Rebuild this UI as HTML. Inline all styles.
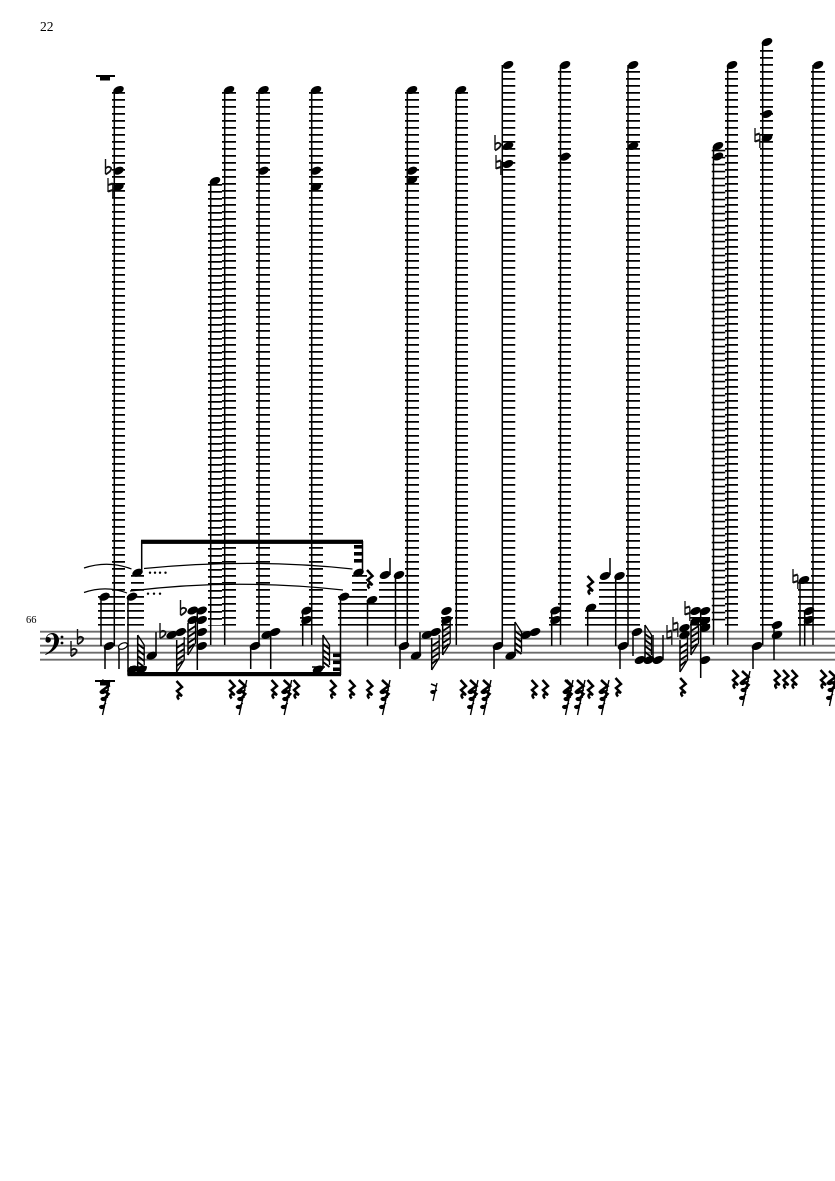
<!DOCTYPE html>
<html><head><meta charset="utf-8"><style>
html,body{margin:0;padding:0;background:#fff}
svg{display:block}
.l{stroke:#000;stroke-dasharray:1.7 5.3;fill:none}
.s{stroke:#000;stroke-width:1.5;fill:none}
.st{stroke:#6c6c6c;stroke-width:1.8}
.sl{fill:none;stroke:#000;stroke-width:1.2}
</style></head><body>
<svg width="835" height="1181" viewBox="0 0 835 1181" xmlns="http://www.w3.org/2000/svg">
<defs>
<ellipse id="h" rx="5.6" ry="3.6" transform="rotate(-25)" fill="#000"/>
<g id="f" fill="none" stroke="#111" stroke-width="1.4"><path d="M0 -11V4"/><path d="M0 -1.500Q3 -4.500 5.500 -2Q6.500 1 0 4.500" stroke-width="1.800"/></g>
<g id="n" fill="none" stroke="#111"><path d="M0 -10V4M4.800 -4V10" stroke-width="1.300"/><path d="M0 -3L4.800 -4.500M0 3.500L4.800 2" stroke-width="2.200"/></g>
<path id="r" d="M-2.500 -9L3 -3L-2 1L3 6C-1 4 -3 6 0 9.500" fill="none" stroke="#000" stroke-width="2.500"/>
<g id="c"><path d="M5 -9L-2.500 26" stroke="#000" stroke-width="1.400" fill="none"/><path d="M-3 -9L3.500 -3L-2 1L3.500 5L0 9" fill="none" stroke="#000" stroke-width="2.600"/><ellipse cx="-2.500" cy="3" rx="3" ry="2.100" fill="#000"/><ellipse cx="-1.500" cy="10" rx="3" ry="2.100" fill="#000"/><ellipse cx="-3" cy="18" rx="3" ry="2.100" fill="#000"/><path d="M-3 3L4 1M-2 10L3 8M-3 18L1 14" stroke="#000" stroke-width="1.300"/></g>
<g id="hd" fill="none" stroke="#000"><path d="M0 0V32" stroke-width="1.500"/><path d="M7.500 -3V20L0 32" stroke-width="1.300"/><path d="M0 8L7.500 3M0 14L7.500 9M0 20L7.500 15M0 26L6 21" stroke-width="1.900"/></g>
<g id="hu" fill="none" stroke="#000"><path d="M0 0V34" stroke-width="1.500"/><path d="M0 0L6.500 10L6.500 30" stroke-width="1.300"/><path d="M0 9L6.500 14M0 15L6.500 20M0 21L6.500 26M0 27L6.500 32" stroke-width="1.900"/></g>
</defs>

<text x="40" y="31" font-family="'Liberation Serif',serif" font-size="13.500" fill="#000">22</text>
<text x="26" y="623" font-family="'Liberation Serif',serif" font-size="10.500" fill="#000">66</text>

<!-- staff -->
<path class="st" d="M40 631.700H835M40 638.700H835M40 645.700H835M40 652.700H835M40 659.700H835"/>

<!-- ledger stacks -->
<g class="l">
<path stroke-width="13" d="M118.500 92V625.600"/>
<path stroke-width="14" d="M105 596V625.600"/>
<path stroke-width="13" d="M137.500 575V625.600"/>
<path stroke-width="4" d="M129 596V625.600"/>
<path stroke-width="14" d="M215 184V625.600"/>
<path stroke-width="14" d="M229 92V625.600"/>
<path stroke-width="14" d="M263 92V625.600"/>
<path stroke-width="14" d="M316 92V625.600"/>
<path stroke-width="9" d="M304.500 617V625.600"/>
<path stroke-width="14" d="M345 596V625.600"/>
<path stroke-width="15" d="M359.500 575V625.600"/>
<path stroke-width="12" d="M373 603V625.600"/>
<path stroke-width="26" d="M392 582V625.600"/>
<path stroke-width="14" d="M412 92V625.600"/>
<path stroke-width="13" d="M461.500 92V625.600"/>
<path stroke-width="12" d="M447 617V625.600"/>
<path stroke-width="13.500" d="M508.500 71V625.600"/>
<path stroke-width="13" d="M564.500 71V625.600"/>
<path stroke-width="14" d="M633 71V625.600"/>
<path stroke-width="9" d="M553.500 617V625.600"/>
<path stroke-width="14" d="M592 610V625.600"/>
<path stroke-width="28" d="M613 582V625.600"/>
<path stroke-width="20" d="M700 617V625.600"/>
<path stroke-width="13.500" d="M718.500 149.700V625.600"/>
<path stroke-width="13" d="M731.500 71V625.600"/>
<path stroke-width="13" d="M766.500 50V625.600"/>
<path stroke-width="14" d="M818 71V625.600"/>
<path stroke-width="13" d="M804.500 582V625.600"/>
<path stroke-width="14" d="M805 617V625.600"/>
</g>

<!-- long stems -->
<path class="s" d="M114.300 90V646M224.700 90V645M210.700 181V645M259 90V645M311.700 90V645M407.300 90V645M456.300 90V645M502.300 65V645M560.500 65V645M628 65V645M713.500 147V645M727.700 65V645M762.700 42V645M813 65V645"/>
<!-- other stems -->
<path class="s" d="M101 597V646M105 646V669M119 646V669M128 597V675M141.700 541V572M156 655V632M197.300 610V670M250.700 646V669M270.700 633V669M302.700 612V646M340.500 597V675M362.500 541V572M367.500 600V646M400 646V669M395.500 575V646M390 558V575M420 655V632M494 646V669M551.700 612V646M587.700 608V646M610 558V575M615.700 576V646M620 646V669M633 632V656M653 635V660M663 635V660M700.700 611V678M753 646V669M774 625V660M800 580V646M804.700 611V646"/>

<!-- beams -->
<rect x="141" y="539.700" width="222" height="4.200"/>
<rect x="127.500" y="672" width="213.500" height="4.200"/>
<rect x="354" y="545" width="8.500" height="3.600"/><rect x="354" y="552" width="8.500" height="3.600"/><rect x="354" y="559" width="8.500" height="3.600"/>
<rect x="333" y="653.500" width="7.500" height="3.600"/><rect x="333" y="660.500" width="7.500" height="3.600"/><rect x="333" y="667.500" width="7.500" height="3.600"/>

<!-- hatched flags -->
<use href="#hd" x="176.700" y="640"/>
<use href="#hd" x="188" y="623"/>
<use href="#hd" x="431.700" y="638"/>
<use href="#hd" x="442.700" y="623"/>
<use href="#hd" x="680" y="640"/>
<use href="#hd" x="691" y="623"/>
<use href="#hu" x="137.700" y="635"/>
<use href="#hu" x="323" y="635"/>
<use href="#hu" x="515" y="622"/>
<use href="#hu" x="645" y="625"/>

<!-- noteheads -->
<g>
<use href="#h" x="118.500" y="90"/><use href="#h" x="118.500" y="170.700"/><use href="#h" x="118.500" y="187"/>
<use href="#h" x="215" y="181"/><use href="#h" x="229" y="90"/>
<use href="#h" x="263.500" y="90"/><use href="#h" x="263.500" y="170.700"/>
<use href="#h" x="316" y="90"/><use href="#h" x="316" y="170.700"/><use href="#h" x="316" y="187"/>
<use href="#h" x="412" y="90"/><use href="#h" x="412" y="170.700"/><use href="#h" x="412" y="180"/>
<use href="#h" x="461" y="90"/>
<use href="#h" x="508" y="65"/><use href="#h" x="508" y="146"/><use href="#h" x="508" y="164"/>
<use href="#h" x="565" y="65"/><use href="#h" x="565" y="156.700"/>
<use href="#h" x="633" y="65"/><use href="#h" x="633" y="146"/>
<use href="#h" x="718" y="146"/><use href="#h" x="718" y="156.500"/><use href="#h" x="732" y="65"/>
<use href="#h" x="767" y="42"/><use href="#h" x="767" y="114"/><use href="#h" x="767" y="138"/>
<use href="#h" x="818" y="65"/>

<use href="#h" x="104.500" y="596.700"/><use href="#h" x="109" y="646"/>
<use href="#h" x="132" y="596.700"/><use href="#h" x="137.500" y="572.700"/>
<use href="#h" x="151.700" y="655.700"/>
<use href="#h" x="171.700" y="635"/><use href="#h" x="180.700" y="632"/>
<use href="#h" x="192.700" y="610.500"/><use href="#h" x="201.700" y="610.500"/><use href="#h" x="192.700" y="620"/><use href="#h" x="201.700" y="620"/><use href="#h" x="201.700" y="632"/><use href="#h" x="201.700" y="646"/>
<use href="#h" x="255" y="646"/><use href="#h" x="266.700" y="635"/><use href="#h" x="275" y="632"/>
<use href="#h" x="306.500" y="610.700"/><use href="#h" x="306.500" y="620"/>
<use href="#h" x="344" y="596.700"/><use href="#h" x="358.500" y="572.700"/><use href="#h" x="372" y="600"/>
<use href="#h" x="385" y="575"/><use href="#h" x="399" y="575"/>
<use href="#h" x="404" y="646"/><use href="#h" x="416" y="655.700"/><use href="#h" x="427" y="635"/><use href="#h" x="435.500" y="632"/>
<use href="#h" x="446.500" y="611"/><use href="#h" x="446.500" y="620"/>
<use href="#h" x="498" y="646"/><use href="#h" x="510.700" y="655.700"/><use href="#h" x="526" y="635"/><use href="#h" x="535" y="632"/>
<use href="#h" x="555.500" y="610.500"/><use href="#h" x="555.500" y="620"/>
<use href="#h" x="591" y="607.700"/><use href="#h" x="605" y="576"/><use href="#h" x="619.500" y="576"/>
<use href="#h" x="623" y="646"/><use href="#h" x="637" y="632"/>
<use href="#h" x="640" y="660"/><use href="#h" x="649" y="660"/><use href="#h" x="658" y="660"/>
<use href="#h" x="684.500" y="628"/><use href="#h" x="684.500" y="635"/>
<use href="#h" x="695.500" y="611"/><use href="#h" x="705" y="611"/><use href="#h" x="695.500" y="621"/><use href="#h" x="705" y="621"/><use href="#h" x="705" y="628"/><use href="#h" x="705" y="660"/>
<use href="#h" x="757" y="646"/><use href="#h" x="777" y="625"/><use href="#h" x="777" y="635"/>
<use href="#h" x="804" y="580"/><use href="#h" x="809" y="611"/><use href="#h" x="809" y="620"/>
<use href="#h" x="318" y="669.500"/>
<use href="#h" x="132.500" y="669.500"/><use href="#h" x="141.500" y="669.500"/>
</g>
<ellipse cx="123" cy="646" rx="4.800" ry="2.800" transform="rotate(-25 123 646)" fill="#fff" stroke="#000" stroke-width="1.200"/>
<path stroke="#000" stroke-width="1.500" d="M130 667H147M312 667H325" fill="none"/>

<!-- dots -->
<g fill="#000"><circle cx="150" cy="572.700" r="1.200"/><circle cx="155" cy="572.700" r="1.200"/><circle cx="160" cy="572.700" r="1.200"/><circle cx="165.500" cy="572.700" r="1.200"/><circle cx="148" cy="593.700" r="1.200"/><circle cx="154" cy="593.700" r="1.200"/><circle cx="160" cy="593.700" r="1.200"/></g>

<!-- slurs -->
<path class="sl" d="M84 568Q108 560 131.500 569"/>
<path class="sl" d="M84 592.500Q106 585 127 593"/>
<path class="sl" d="M144 568.500Q250 558 352.500 569"/>
<path class="sl" d="M130 591Q235 578 343 590"/>

<!-- clef -->
<path fill="#000" d="M45.500 641c0-5 3-8 7-8c4 0 6.500 3.500 6.500 7c0 7-6 12-13.500 15l-.3-.8c5-3 9-7 9-14c0-3-.8-6-3-6c-2 0-3.500 1-4 3a2.800 2.800 0 1 1 -1.700 3.800z"/>
<circle cx="62" cy="637" r="1.400"/><circle cx="62" cy="643" r="1.400"/>

<!-- accidentals -->
<use href="#f" x="71" y="652"/><use href="#f" x="77.500" y="640"/>
<use href="#f" x="105.500" y="170"/><use href="#n" x="108" y="188"/>
<use href="#f" x="160" y="634"/><use href="#f" x="180.500" y="611"/>
<use href="#f" x="495" y="146"/><use href="#n" x="496" y="165"/>
<use href="#n" x="667" y="635"/><use href="#n" x="673" y="627"/><use href="#n" x="685" y="611"/>
<use href="#n" x="755" y="138"/><use href="#n" x="793" y="579"/>

<!-- whole rests -->
<rect x="96" y="75" width="19" height="2"/><rect x="100" y="76" width="10" height="4.500"/>
<rect x="95" y="680" width="20" height="2"/><rect x="100" y="681" width="10" height="4.500"/>

<!-- rests lower voice -->
<use href="#c" x="105" y="689"/>
<use href="#r" x="179" y="690"/>
<use href="#r" x="231.700" y="689"/><use href="#c" x="241.700" y="689"/>
<use href="#r" x="274" y="689"/><use href="#c" x="286.700" y="689"/><use href="#r" x="296" y="689"/>
<use href="#r" x="332.700" y="689"/><use href="#r" x="351.700" y="689"/><use href="#r" x="369.300" y="689"/>
<use href="#c" x="385" y="689"/>
<path d="M437 683L433 701" stroke="#000" stroke-width="1.300"/><ellipse cx="433" cy="692" rx="2.800" ry="2"/><path d="M433 692L437 690M431 684L436 686" stroke="#000" stroke-width="1.600"/>
<use href="#r" x="463" y="689"/><use href="#c" x="473" y="689"/><use href="#c" x="486" y="689"/>
<use href="#r" x="534" y="689"/><use href="#r" x="545" y="689"/>
<use href="#c" x="568" y="689"/><use href="#r" x="569" y="689"/>
<use href="#c" x="580" y="689"/><use href="#r" x="590" y="689"/>
<use href="#c" x="604" y="689"/><use href="#r" x="618" y="687"/>
<use href="#r" x="682.700" y="687"/>
<use href="#r" x="735" y="679"/><use href="#c" x="745" y="680"/>
<use href="#r" x="776.700" y="679"/><use href="#r" x="785.500" y="679"/><use href="#r" x="794" y="679"/>
<use href="#r" x="823" y="679"/><use href="#c" x="832" y="680"/>
<!-- upper rests -->
<use href="#r" x="369.500" y="579"/><use href="#r" x="590" y="585"/>
</svg>
</body></html>
